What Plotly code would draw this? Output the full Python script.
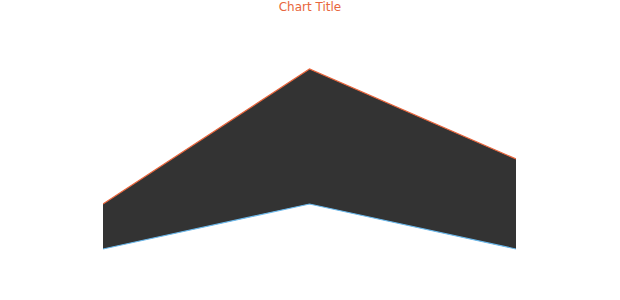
import plotly.graph_objects as go

categories = ["A", "B", "C"]
upper = [20, 50, 30]
lower = [10, 20, 10]

fig = go.Figure()
fig.add_trace(go.Scatter(x=categories, y=lower, mode="lines",
                         line=dict(color="#6cb9ec", width=1.2), showlegend=False))
fig.add_trace(go.Scatter(x=categories, y=upper, mode="lines", fill="tonexty",
                         fillcolor="#333333",
                         line=dict(color="#e8663d", width=1.2), showlegend=False))

fig.update_layout(
    width=620, height=300,
    margin=dict(l=103, r=104, t=24, b=6),
    paper_bgcolor="white", plot_bgcolor="white",
    title=dict(text="Chart Title", x=0.5, xanchor="center", y=0.977, yanchor="middle",
               font=dict(family="DejaVu Sans", size=12, color="#e8663d")),
    xaxis=dict(visible=False, range=[0, 2]),
    yaxis=dict(visible=False, range=[0, 60]),
)
fig.write_html("out.html")
